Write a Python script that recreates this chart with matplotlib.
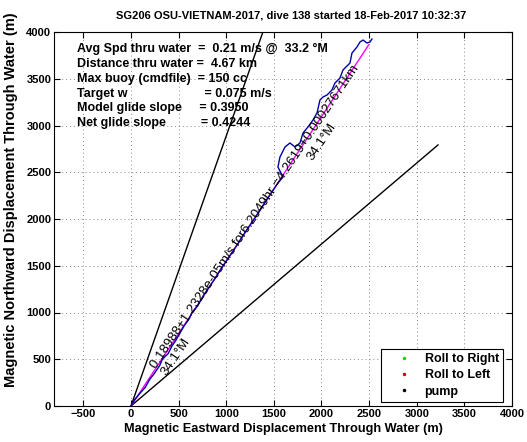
import numpy as np
import matplotlib
matplotlib.use("Agg")
import matplotlib.pyplot as plt

plt.rcParams['font.family'] = ['Liberation Sans', 'DejaVu Sans']

# ---- data ----
track_x = [0, 40, 90, 150, 200, 240, 300, 330, 390, 430, 470, 520, 560, 610, 640, 700,
           760, 820, 880, 940, 1000, 1060, 1120, 1180, 1240, 1300, 1360, 1420, 1480, 1540,
           1596, 1543, 1564, 1617, 1669, 1722, 1774, 1806, 1858, 1911, 1953, 1984, 2016,
           2058, 2110, 2142, 2194, 2226, 2299, 2320, 2373, 2404, 2436, 2478, 2509, 2530]
track_y = [0, 70, 130, 200, 290, 340, 430, 500, 560, 640, 700, 790, 860, 930, 1000, 1070,
           1180, 1270, 1360, 1460, 1550, 1640, 1730, 1830, 1920, 2010, 2100, 2200, 2290, 2380,
           2449, 2556, 2663, 2770, 2813, 2770, 2813, 2920, 2984, 3059, 3134, 3273, 3305,
           3326, 3380, 3455, 3508, 3594, 3668, 3775, 3840, 3893, 3914, 3882, 3893, 3925]
mean_end = [2495, 3861]          # magenta straight line end point
heading_deg = 34.1
fan_half_width = 15.0
fan_length = 4264.0

title = "SG206 OSU-VIETNAM-2017, dive 138 started 18-Feb-2017 10:32:37"
info_lines = [
    "Avg Spd thru water  =  0.21 m/s @  33.2 \u00b0M",
    "Distance thru water =  4.67 km",
    "Max buoy (cmdfile)  = 150 cc",
    "Target w                      = 0.075 m/s",
    "Model glide slope     = 0.3950",
    "Net glide slope          = 0.4244",
]
fit_text = "0.18988+1.2328e-05m/s for6.2049hr =4.2619+0.00027671km"
head_text = "34.1\u00b0M"
legend_labels = ["Roll to Right", "Roll to Left", "pump"]
legend_colors = ["#00dd00", "#dd0000", "black"]
xticks = np.arange(-500, 4001, 500)
yticks = np.arange(0, 4001, 500)

# ---- figure ----
W, H = 527, 442
fig = plt.figure(figsize=(W / 100, H / 100), dpi=100)
ax = fig.add_axes([54 / W, (H - 406) / H, (512 - 54) / W, (406 - 32) / H])
ax.set_xlim(-808, 4000)
ax.set_ylim(0, 4000)

# fan lines
for a in (heading_deg - fan_half_width, heading_deg + fan_half_width):
    r = np.radians(a)
    ax.plot([0, fan_length * np.sin(r)], [0, fan_length * np.cos(r)], color="black", lw=1.0)

ax.plot([0, mean_end[0]], [0, mean_end[1]], color="#ff00ff", lw=1.0)
ax.plot(track_x, track_y, color="#0000a8", lw=1.0)

# legend proxies
handles = []
for lab, c in zip(legend_labels, legend_colors):
    h, = ax.plot([], [], linestyle="none", marker=".", markersize=3, color=c, label=lab)
    handles.append(h)
leg = ax.legend(handles=handles, loc="lower right", bbox_to_anchor=(0.993, -0.005),
                fancybox=False, edgecolor="black", framealpha=1,
                prop={"weight": "bold", "size": 9}, handletextpad=0.15,
                borderpad=0.3, labelspacing=0.35, handlelength=3.0)
leg.get_frame().set_linewidth(0.8)

# info texts
for i, s in enumerate(info_lines):
    ax.text(-570, 3815 - i * 158, s, fontsize=9, fontweight="bold", ha="left", va="center")

ax.text(258, 400, fit_text, rotation=56, rotation_mode="anchor", ha="left", va="baseline",
        fontsize=9.5)
ax.text(373, 326, head_text, rotation=56, rotation_mode="anchor", ha="left", va="baseline",
        fontsize=9.5)
ax.text(1903, 2620, head_text, rotation=56, rotation_mode="anchor", ha="left", va="baseline",
        fontsize=9.5)

ax.set_title(title, fontsize=8, fontweight="bold", pad=10, x=0.517)
ax.set_xlabel("Magnetic Eastward Displacement Through Water (m)", fontsize=9.2,
              fontweight="bold", labelpad=3)
ax.set_ylabel("Magnetic Northward Displacement Through Water (m)", fontsize=10.5,
              fontweight="bold")
ax.yaxis.set_label_coords(-0.079, 0.551)

ax.set_xticks(xticks)
ax.set_yticks(yticks)
ax.tick_params(direction="in", top=True, right=True, length=4, width=0.8, labelsize=8, pad=2)
for lab in ax.get_xticklabels() + ax.get_yticklabels():
    lab.set_fontweight("bold")
ax.grid(True, linestyle=(0, (1, 3)), color="#888888", linewidth=0.7)
for sp in ax.spines.values():
    sp.set_linewidth(0.8)

fig.savefig("out.png", dpi=100)
